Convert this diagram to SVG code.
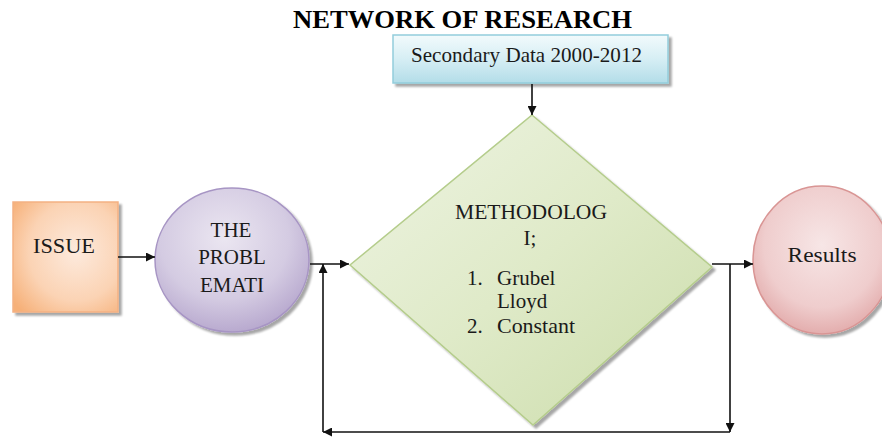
<svg xmlns="http://www.w3.org/2000/svg" width="882" height="437" viewBox="0 0 882 437">
  <defs>
    <style>
      .lbl { font-family: "Liberation Serif", "Times New Roman", serif; font-size: 21px; fill: #1a1a1a; }
      .ttl { font-family: "Liberation Serif", "Times New Roman", serif; font-size: 26px; font-weight: bold; fill: #000; }
      .wire { fill: none; stroke: #111; stroke-width: 1.6; }
    </style>
    <marker id="arrow" viewBox="0 0 10 10" refX="10" refY="5" markerWidth="10" markerHeight="9" markerUnits="userSpaceOnUse" orient="auto">
      <path d="M0,0 L10,5 L0,10 Z" fill="#111"/>
    </marker>
    <filter id="shade" x="-10%" y="-10%" width="125%" height="125%">
      <feGaussianBlur in="SourceAlpha" stdDeviation="1.2"/>
      <feOffset dx="2.5" dy="3" result="off"/>
      <feComponentTransfer><feFuncA type="linear" slope="0.35"/></feComponentTransfer>
      <feMerge><feMergeNode/><feMergeNode in="SourceGraphic"/></feMerge>
    </filter>
    <radialGradient id="gOrange" cx="0.6" cy="0.45" r="0.75">
      <stop offset="0" stop-color="#fdeadd"/>
      <stop offset="0.6" stop-color="#fbd3b4"/>
      <stop offset="1" stop-color="#f6b078"/>
    </radialGradient>
    <radialGradient id="gPurple" cx="0.45" cy="0.35" r="0.7">
      <stop offset="0" stop-color="#ebe6f1"/>
      <stop offset="0.6" stop-color="#d4cbe2"/>
      <stop offset="1" stop-color="#b3a3cb"/>
    </radialGradient>
    <radialGradient id="gPink" cx="0.5" cy="0.4" r="0.7">
      <stop offset="0" stop-color="#f7e6e6"/>
      <stop offset="0.6" stop-color="#efcdcd"/>
      <stop offset="1" stop-color="#dd9c9c"/>
    </radialGradient>
    <linearGradient id="gGreen" x1="0" y1="0" x2="1" y2="1">
      <stop offset="0" stop-color="#eef4e3"/>
      <stop offset="0.5" stop-color="#dfeac8"/>
      <stop offset="1" stop-color="#cbdcaa"/>
    </linearGradient>
    <linearGradient id="gCyan" x1="0" y1="0" x2="0" y2="1">
      <stop offset="0" stop-color="#f2fafc"/>
      <stop offset="0.5" stop-color="#d6eef4"/>
      <stop offset="1" stop-color="#b3dde8"/>
    </linearGradient>
  </defs>

  <rect width="882" height="437" fill="#ffffff"/>

  <text class="ttl" x="462.5" y="28" text-anchor="middle" textLength="339" lengthAdjust="spacingAndGlyphs">NETWORK OF RESEARCH</text>

  <!-- data source box -->
  <g id="secondary-data">
    <rect x="393" y="35" width="275" height="48" fill="url(#gCyan)" stroke="#93cddb" stroke-width="1.5" filter="url(#shade)"/>
    <text class="lbl" x="411" y="62" textLength="231" lengthAdjust="spacingAndGlyphs">Secondary Data 2000-2012</text>
  </g>

  <!-- issue box -->
  <g id="issue">
    <rect x="13" y="202" width="105" height="110" fill="url(#gOrange)" stroke="#f4b183" stroke-width="1.5" filter="url(#shade)"/>
    <text class="lbl" x="64" y="253" text-anchor="middle" textLength="62" lengthAdjust="spacingAndGlyphs">ISSUE</text>
  </g>

  <!-- problem statement circle -->
  <g id="problem">
    <ellipse cx="232" cy="260" rx="77" ry="72" fill="url(#gPurple)" stroke="#a795c4" stroke-width="1.5" filter="url(#shade)"/>
    <text class="lbl" x="231" y="237" text-anchor="middle">THE</text>
    <text class="lbl" x="232" y="264" text-anchor="middle">PROBL</text>
    <text class="lbl" x="232" y="292" text-anchor="middle">EMATI</text>
  </g>

  <!-- methodology diamond -->
  <g id="methodology">
    <polygon points="532,115 712,267 533,425 350,265" fill="url(#gGreen)" stroke="#b5cd8c" stroke-width="1.5" filter="url(#shade)"/>
    <text class="lbl" x="531" y="219" text-anchor="middle" textLength="152" lengthAdjust="spacingAndGlyphs">METHODOLOG</text>
    <text class="lbl" x="530" y="245" text-anchor="middle">I;</text>
    <text class="lbl" x="467" y="285">1.</text>
    <text class="lbl" x="497" y="285">Grubel</text>
    <text class="lbl" x="497" y="308">Lloyd</text>
    <text class="lbl" x="467" y="333">2.</text>
    <text class="lbl" x="497" y="333" textLength="78" lengthAdjust="spacingAndGlyphs">Constant</text>
  </g>

  <!-- results circle -->
  <g id="results">
    <ellipse cx="822" cy="260" rx="69" ry="74" fill="url(#gPink)" stroke="#d99594" stroke-width="1.5" filter="url(#shade)"/>
    <text class="lbl" x="822" y="262" text-anchor="middle" textLength="69" lengthAdjust="spacingAndGlyphs">Results</text>
  </g>

  <!-- connectors -->
  <g id="connectors">
    <line class="wire" x1="532" y1="84" x2="532" y2="115" marker-end="url(#arrow)"/>
    <line class="wire" x1="118" y1="257" x2="155" y2="257" marker-end="url(#arrow)"/>
    <line class="wire" x1="310" y1="264" x2="349" y2="264" marker-end="url(#arrow)"/>
    <line class="wire" x1="712" y1="264" x2="753" y2="264" marker-end="url(#arrow)"/>
    <line class="wire" x1="730" y1="264" x2="730" y2="432" marker-end="url(#arrow)"/>
    <line class="wire" x1="730" y1="432" x2="323" y2="432" marker-end="url(#arrow)"/>
    <line class="wire" x1="323" y1="432" x2="323" y2="264" marker-end="url(#arrow)"/>
  </g>
</svg>
